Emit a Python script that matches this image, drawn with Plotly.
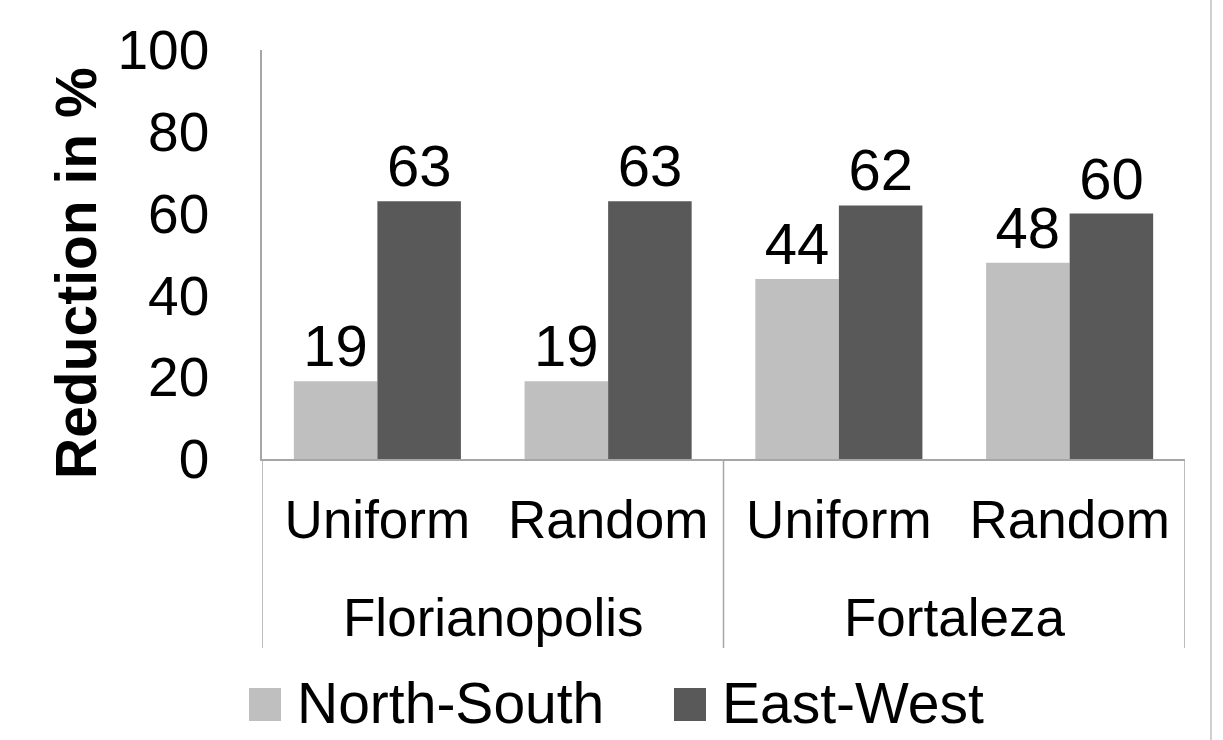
import plotly.graph_objects as go

cities = ["Florianopolis", "Florianopolis", "Fortaleza", "Fortaleza"]
distributions = ["Uniform", "Random", "Uniform", "Random"]
series_names = ["North-South", "East-West"]
north_south = [19, 19, 44, 48]
east_west = [63, 63, 62, 60]
colors = ["#bfbfbf", "#595959"]
y_ticks = [0, 20, 40, 60, 80, 100]

FONT = "Liberation Sans, Arial, sans-serif"
AXIS_GRAY = "#a6a6a6"
W, H = 1223, 740
ML, MR, MT, MB = 262, 38, 50, 281
PW, PH = W - ML - MR, H - MT - MB


def px_to_paper_x(px):
    return (px - ML) / PW


def px_to_paper_y(py):
    return (H - MB - py) / PH


x_idx = list(range(len(distributions)))

fig = go.Figure()
for name, vals, col in zip(series_names, [north_south, east_west], colors):
    fig.add_trace(go.Bar(
        x=x_idx, y=vals, name=name,
        marker=dict(color=col, line=dict(width=0)),
        text=[str(v) for v in vals], textposition="outside",
        textfont=dict(family=FONT, size=58, color="#000000"),
        constraintext="none", cliponaxis=False, showlegend=False,
    ))

fig.update_layout(
    width=W, height=H, autosize=False,
    margin=dict(l=ML, r=MR, t=MT, b=MB, pad=0),
    paper_bgcolor="white", plot_bgcolor="white",
    barmode="group", bargap=0.276, bargroupgap=0,
    font=dict(family=FONT, color="#000000"),
    xaxis=dict(
        range=[-0.5, len(distributions) - 0.5],
        tickvals=x_idx, ticktext=distributions,
        showline=True, linecolor=AXIS_GRAY, linewidth=1.5,
        showgrid=False, zeroline=False, ticks="",
        tickfont=dict(family=FONT, size=53, color="#000000"),
        ticklabelstandoff=14,
    ),
    yaxis=dict(
        range=[0, 100], tickvals=y_ticks, showline=True, linecolor=AXIS_GRAY,
        linewidth=1.5, showgrid=False, zeroline=False, ticks="",
        tickfont=dict(family=FONT, size=55, color="#000000"),
        ticklabelstandoff=40,
    ),
    showlegend=False,
)

# Group (city) labels and dividers, derived from category indices
groups = []
for i, c in enumerate(cities):
    if not groups or groups[-1][0] != c:
        groups.append([c, i, i])
    else:
        groups[-1][2] = i

boundaries = sorted({g[1] - 0.5 for g in groups} | {g[2] + 0.5 for g in groups})
for b in boundaries:
    fig.add_shape(type="line", xref="x", yref="paper",
                  x0=b, x1=b, y0=0, y1=px_to_paper_y(648),
                  line=dict(color=AXIS_GRAY, width=1.5))

for name, i0, i1 in groups:
    fig.add_annotation(text=name, showarrow=False, xref="x", yref="paper",
                       x=(i0 + i1) / 2, y=px_to_paper_y(617),
                       xanchor="center", yanchor="middle",
                       font=dict(family=FONT, size=53, color="#000000"))

# Y-axis title
fig.add_annotation(
    text="<b>Reduction in %</b>", textangle=-90, showarrow=False,
    xref="paper", yref="paper", x=px_to_paper_x(76), y=px_to_paper_y(273),
    xanchor="center", yanchor="middle",
    font=dict(family=FONT, size=57, color="#000000"),
)

# Legend
legend_sq = [(249, 281), (674, 706)]
legend_txt_x = [295, 720]
for name, col, (x0, x1), tx in zip(series_names, colors, legend_sq, legend_txt_x):
    fig.add_shape(type="rect", xref="paper", yref="paper",
                  x0=px_to_paper_x(x0), x1=px_to_paper_x(x1),
                  y0=px_to_paper_y(688), y1=px_to_paper_y(721),
                  fillcolor=col, line=dict(width=0))
    fig.add_annotation(text=name, showarrow=False, xref="paper", yref="paper",
                       x=px_to_paper_x(tx), y=px_to_paper_y(703),
                       xanchor="left", yanchor="middle",
                       font=dict(family=FONT, size=57, color="#000000"))

# Right page border line
fig.add_shape(type="line", xref="paper", yref="paper",
              x0=px_to_paper_x(1211), x1=px_to_paper_x(1211),
              y0=px_to_paper_y(0), y1=px_to_paper_y(740),
              line=dict(color="#d0d0d0", width=2))

fig.write_html("out.html")
